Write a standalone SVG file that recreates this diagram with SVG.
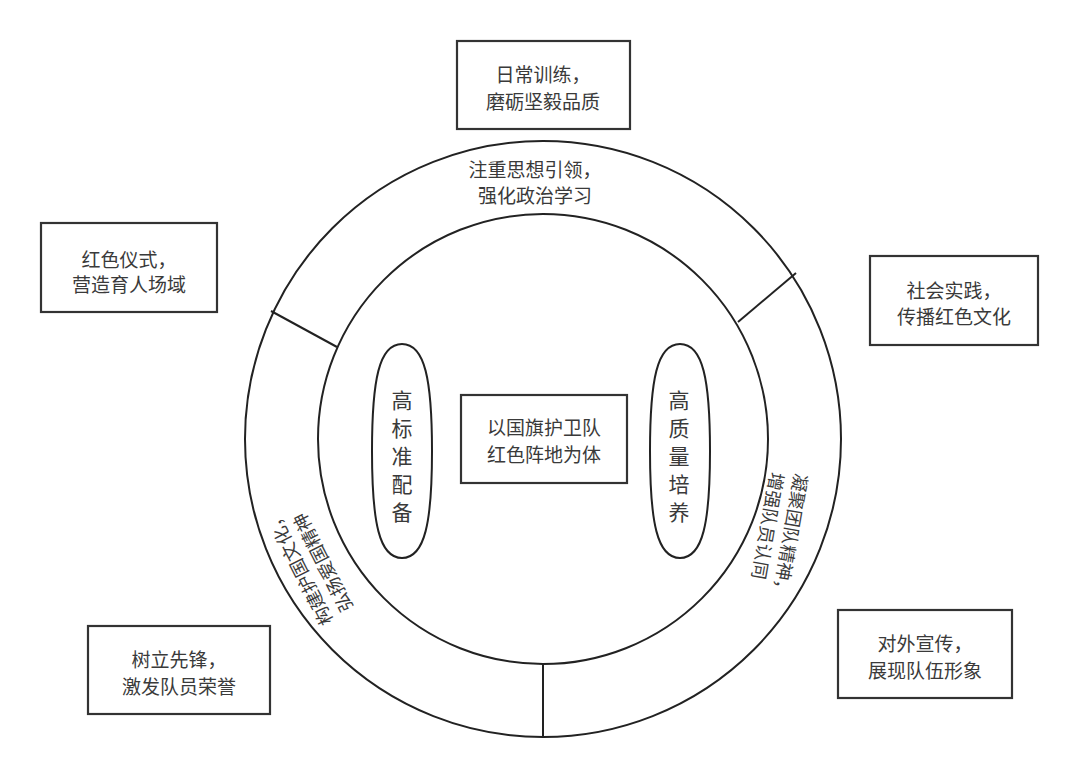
<svg xmlns="http://www.w3.org/2000/svg" width="1080" height="777" viewBox="0 0 1080 777">
<style>
.box{fill:#fff;stroke:#333;stroke-width:2.2}
.ln{fill:none;stroke:#222;stroke-width:2}
.t{font-family:"Noto Sans CJK SC","Noto Sans",sans-serif;font-size:19px;fill:#3a3a3a;text-anchor:middle}
.tv{font-family:"Noto Sans CJK SC","Noto Sans",sans-serif;font-size:21px;fill:#3a3a3a;text-anchor:middle}
.tr{font-family:"Noto Sans CJK SC","Noto Sans",sans-serif;font-size:18px;fill:#3a3a3a;text-anchor:middle}
</style>
<rect width="1080" height="777" fill="#fff"/>
<g id="rings">
<circle class="ln" cx="543" cy="439" r="298"/>
<circle class="ln" cx="543" cy="439" r="225"/>
</g>
<g id="connectors">
<line class="ln" x1="271" y1="311" x2="337" y2="347"/>
<line class="ln" x1="738" y1="322" x2="796" y2="273"/>
<line class="ln" x1="543" y1="664" x2="543" y2="737"/>
</g>
<g id="ring-top">
<text class="t" x="535" y="177">注重思想引领，</text>
<text class="t" x="535" y="203">强化政治学习</text>
</g>
<g id="ring-right" transform="translate(780,528) rotate(100)">
<text class="tr" x="6" y="-5">凝聚团队精神，</text>
<text class="tr" x="0" y="19">增强队员认同</text>
</g>
<g id="ring-left" transform="translate(312,568) rotate(-117)">
<text class="tr" x="6" y="-5">构建护国文化，</text>
<text class="tr" x="0" y="19">弘扬爱国精神</text>
</g>
<g id="center">
<rect class="box" x="461" y="395" width="166" height="88"/>
<text class="t" x="544" y="435">以国旗护卫队</text>
<text class="t" x="544" y="462">红色阵地为体</text>
</g>
<g id="pill-left">
<path class="ln" d="M402 344 C425 344 432 380 432 451 C432 522 425 558 402 558 C379 558 372 522 372 451 C372 380 379 344 402 344 Z"/>
<text class="tv" x="402" y="408">高</text>
<text class="tv" x="402" y="436">标</text>
<text class="tv" x="402" y="464">准</text>
<text class="tv" x="402" y="492">配</text>
<text class="tv" x="402" y="520">备</text>
</g>
<g id="pill-right">
<path class="ln" d="M680 344 C703 344 710 380 710 451 C710 522 703 558 680 558 C657 558 650 522 650 451 C650 380 657 344 680 344 Z"/>
<text class="tv" x="679" y="408">高</text>
<text class="tv" x="679" y="436">质</text>
<text class="tv" x="679" y="464">量</text>
<text class="tv" x="679" y="492">培</text>
<text class="tv" x="679" y="520">养</text>
</g>
<g id="box-top">
<rect class="box" x="457" y="41" width="173" height="88"/>
<text class="t" x="543" y="82">日常训练，</text>
<text class="t" x="543" y="109">磨砺坚毅品质</text>
</g>
<g id="box-left">
<rect class="box" x="41" y="223" width="176" height="89"/>
<text class="t" x="129" y="267">红色仪式，</text>
<text class="t" x="129" y="292">营造育人场域</text>
</g>
<g id="box-right">
<rect class="box" x="870" y="256" width="168" height="89"/>
<text class="t" x="954" y="298">社会实践，</text>
<text class="t" x="954" y="324">传播红色文化</text>
</g>
<g id="box-bottom-left">
<rect class="box" x="88" y="626" width="182" height="88"/>
<text class="t" x="179" y="667">树立先锋，</text>
<text class="t" x="179" y="694">激发队员荣誉</text>
</g>
<g id="box-bottom-right">
<rect class="box" x="838" y="610" width="174" height="88"/>
<text class="t" x="925" y="651">对外宣传，</text>
<text class="t" x="925" y="678">展现队伍形象</text>
</g>
</svg>
